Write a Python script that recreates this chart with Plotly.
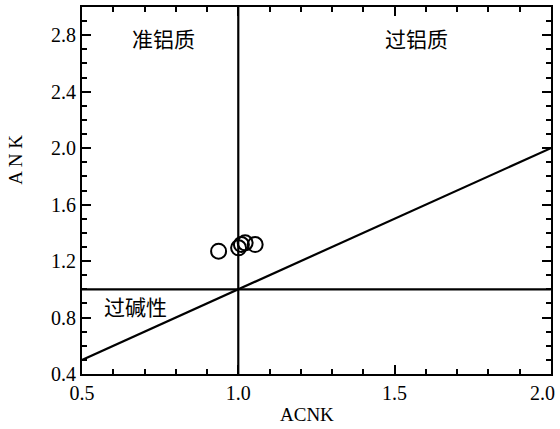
import plotly.graph_objects as go

# Sample data (ACNK vs ANK)
acnk = [0.937, 1.001, 1.010, 1.022, 1.054]
ank = [1.270, 1.294, 1.317, 1.329, 1.317]

# Reference lines
vline_x = [1.0, 1.0]
vline_y = [0.4, 3.0]
hline_x = [0.5, 2.0]
hline_y = [1.0, 1.0]
diag_x = [0.5, 2.0]
diag_y = [0.5, 2.0]

# Field labels
field_labels = ["准铝质", "过铝质", "过碱性"]
field_x = [0.76, 1.57, 0.67]
field_y = [2.78, 2.78, 0.88]

# Tick labels (last label drawn right-aligned at the axis end so it stays inside the page)
x_tickvals = [0.5, 1.0, 1.5, 2.0]
x_ticktext = ["0.5", "1.0", "1.5", ""]
x_end_value = 2.0
x_end_label = "2.0"

fig = go.Figure()
line_style = dict(color="black", width=2.2)
for xs, ys in [(vline_x, vline_y), (hline_x, hline_y), (diag_x, diag_y)]:
    fig.add_trace(go.Scatter(x=xs, y=ys, mode="lines", line=line_style,
                             showlegend=False, hoverinfo="skip"))

fig.add_trace(go.Scatter(
    x=acnk, y=ank, mode="markers",
    marker=dict(symbol="circle-open", size=15, color="black", line=dict(width=2)),
    showlegend=False))

for t, x, y in zip(field_labels, field_x, field_y):
    fig.add_annotation(x=x, y=y, text=t, showarrow=False,
                       font=dict(family="Noto Sans CJK SC", size=21, color="black"))

fig.add_annotation(x=x_end_value, xref="x", yref="paper", y=-0.052, text=x_end_label,
                   xanchor="right", yanchor="middle", xshift=6, showarrow=False,
                   font=dict(family="Liberation Serif", size=20, color="black"))

fig.add_annotation(xref="paper", yref="paper", x=0.48, y=-0.109, text="ACNK",
                   xanchor="center", yanchor="middle",
                   showarrow=False, font=dict(family="Liberation Serif", size=19, color="black"))
fig.add_annotation(xref="paper", yref="paper", x=-0.142, y=0.585, text="A N K",
                   xanchor="center", yanchor="middle",
                   textangle=-90, showarrow=False,
                   font=dict(family="Liberation Serif", size=19, color="black"))

axis_common = dict(
    showgrid=False, zeroline=False, showline=True, linecolor="black", linewidth=2.2,
    mirror="allticks", ticks="inside", ticklen=9, tickwidth=2, tickcolor="black",
    ticklabeloverflow="allow", automargin=False,
    tickfont=dict(family="Liberation Serif", size=20, color="black"),
)
fig.update_xaxes(range=[0.5, 2.0005], tickmode="array", tickvals=x_tickvals, ticktext=x_ticktext,
                 minor=dict(ticks="inside", ticklen=5, tickwidth=2, tickcolor="black",
                            tick0=0.5, dtick=0.1, showgrid=False),
                 **axis_common)
fig.update_yaxes(range=[0.4, 3.0], tick0=0.4, dtick=0.4, tickformat=".1f",
                 minor=dict(ticks="inside", ticklen=5, tickwidth=2, tickcolor="black",
                            tick0=0.4, dtick=0.1, showgrid=False),
                 **axis_common)

fig.update_layout(
    width=560, height=429,
    margin=dict(l=82, r=9, t=7, b=55, pad=0),
    plot_bgcolor="white", paper_bgcolor="white",
)
fig.write_html("out.html")
